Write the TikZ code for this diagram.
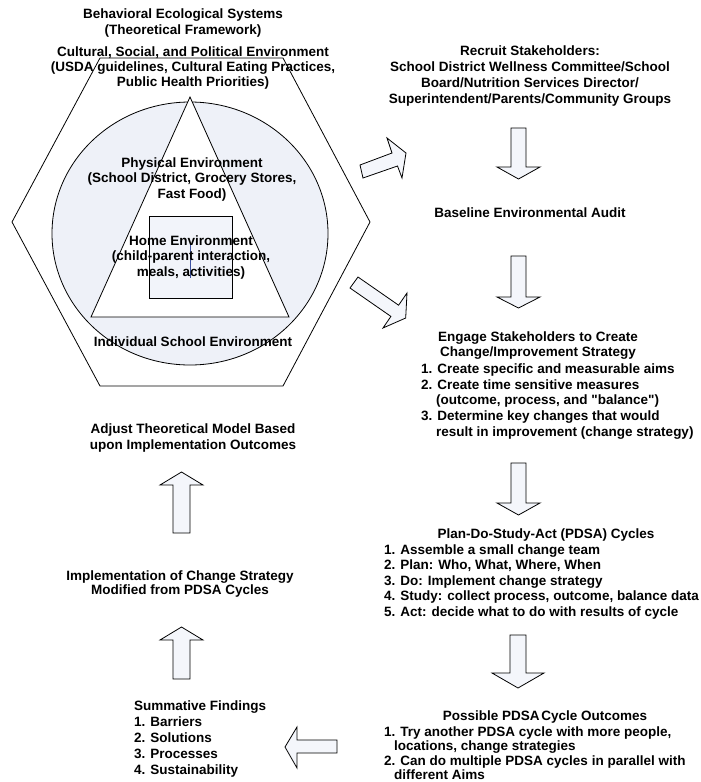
\documentclass[tikz,border=0pt]{standalone}
\usepackage{fontspec}
\setmainfont{Liberation Sans}
\definecolor{circfill}{RGB}{238,241,248}
\definecolor{arrfill}{RGB}{244,246,251}
\definecolor{boxfill}{RGB}{242,244,250}
\definecolor{bluemark}{RGB}{60,80,160}
\begin{document}
\begin{tikzpicture}[x=1pt,y=-1pt,
  txt/.style={font=\bfseries\fontsize{13.5}{15.5}\selectfont, align=center, inner sep=0pt},
  lst/.style={txt, align=left, anchor=west},
  outline/.style={draw=black, line width=0.8pt},
  barrow/.style={draw=black, line width=0.8pt, fill=arrfill, line join=miter}]
\useasboundingbox (0,0) rectangle (701,782);

% ---- nested model ----
\draw[outline] (100,58) -- (283,58) -- (370,222) -- (283,386) -- (100,386) -- (12,222) -- cycle;
\draw[outline, fill=circfill] (190,233.5) ellipse [x radius=138, y radius=131.5];
\draw[outline, fill=white] (190,97) -- (289,317) -- (91,317) -- cycle;
\draw[outline, fill=boxfill] (149,216) rectangle (232,298);
\draw[bluemark, line width=0.6pt] (190.7,243) -- (190.7,278);

\node[txt, font=\bfseries\fontsize{13.5}{16}\selectfont] (title) at (183,23) {Behavioral Ecological Systems\\(Theoretical Framework)};
\node[txt, font=\bfseries\fontsize{13.5}{15}\selectfont] (cultural) at (193,68) {Cultural, Social, and Political Environment\\(USDA guidelines, Cultural Eating Practices,\\Public Health Priorities)};
\node[txt, font=\bfseries\fontsize{13.5}{15.3}\selectfont] (physical) at (192,179.5) {Physical Environment\\(School District, Grocery Stores,\\Fast Food)};
\node[txt] (home) at (191,257.5) {Home Environment\\(child-parent interaction,\\meals, activities)};
\node[txt] (individual) at (193,342) {Individual School Environment};

% ---- right column ----
\node[txt, font=\bfseries\fontsize{13.5}{16}\selectfont] (recruit) at (530,76.5) {Recruit Stakeholders:\\School District Wellness Committee/School\\Board/Nutrition Services Director/\\Superintendent/Parents/Community Groups};
\node[txt] (baseline) at (530,213) {Baseline Environmental Audit};
\node[txt] (engage) at (538,345.5) {Engage Stakeholders to Create\\Change/Improvement Strategy};
\node[lst, font=\bfseries\fontsize{13.5}{15.7}\selectfont] (engagelist) at (421,401.5) {1. Create specific and measurable aims\\2. Create time sensitive measures\\\hspace*{15pt}(outcome, process, and \textquotedbl balance\textquotedbl)\\3. Determine key changes that would\\\hspace*{15pt}result in improvement (change strategy)};
\node[txt] (pdsa) at (546,535) {Plan-Do-Study-Act (PDSA) Cycles};
\node[lst] (pdsalist) at (384,582) {1. Assemble a small change team\\2. Plan: Who, What, Where, When\\3. Do: Implement change strategy\\4. Study: collect process, outcome, balance data\\5. Act: decide what to do with results of cycle};
\node[txt] (outcomes) at (545,717) {Possible PDSA\hspace{0.12em}Cycle Outcomes};
\node[lst, font=\bfseries\fontsize{13.5}{14.5}\selectfont] (outcomeslist) at (384,753) {1. Try another PDSA cycle with more people,\\\hspace*{10pt}locations, change strategies\\2. Can do multiple PDSA cycles in parallel with\\\hspace*{10pt}different Aims};

% ---- left column ----
\node[txt, font=\bfseries\fontsize{13.5}{16.5}\selectfont] (adjust) at (193,438) {Adjust Theoretical Model Based\\upon Implementation Outcomes};
\node[txt, font=\bfseries\fontsize{13.5}{14.5}\selectfont] (implement) at (180,584) {Implementation of Change Strategy\\Modified from PDSA Cycles};
\node[lst, font=\bfseries\fontsize{13.5}{15.8}\selectfont] (summative) at (134,739) {Summative Findings\\1. Barriers\\2. Solutions\\3. Processes\\4. Sustainability};

% ---- block arrows ----
\draw[barrow] (360,165) -- (392,153) -- (387,138) -- (406,153) -- (402,178) -- (397.5,166) -- (363,178) -- cycle;
\draw[barrow] (358,277) -- (398.6,305.2) -- (407,293) -- (405.7,318) -- (383,328) -- (390.9,316.4) -- (350,288) -- cycle;

\draw[barrow] (511,128) -- (526,128) -- (526,167) -- (540,167) -- (518.5,179) -- (497,167) -- (511,167) -- cycle;
\draw[barrow] (511,256) -- (526,256) -- (526,297) -- (540,297) -- (518.5,308) -- (497,297) -- (511,297) -- cycle;
\draw[barrow] (511,463) -- (526,463) -- (526,503) -- (540,503) -- (518.5,515) -- (497,503) -- (511,503) -- cycle;
\draw[barrow] (510,635) -- (526,635) -- (526,673) -- (544,673) -- (518,688) -- (492,673) -- (510,673) -- cycle;

\draw[barrow] (173,533) -- (190,533) -- (190,485) -- (203,485) -- (181.5,472) -- (160,485) -- (173,485) -- cycle;
\draw[barrow] (173,679) -- (190,679) -- (190,640) -- (203,640) -- (181.5,627) -- (160,640) -- (173,640) -- cycle;

\draw[barrow] (337,740) -- (297,740) -- (297,727) -- (285,747) -- (297,768) -- (297,753) -- (337,753) -- cycle;
\end{tikzpicture}
\end{document}
